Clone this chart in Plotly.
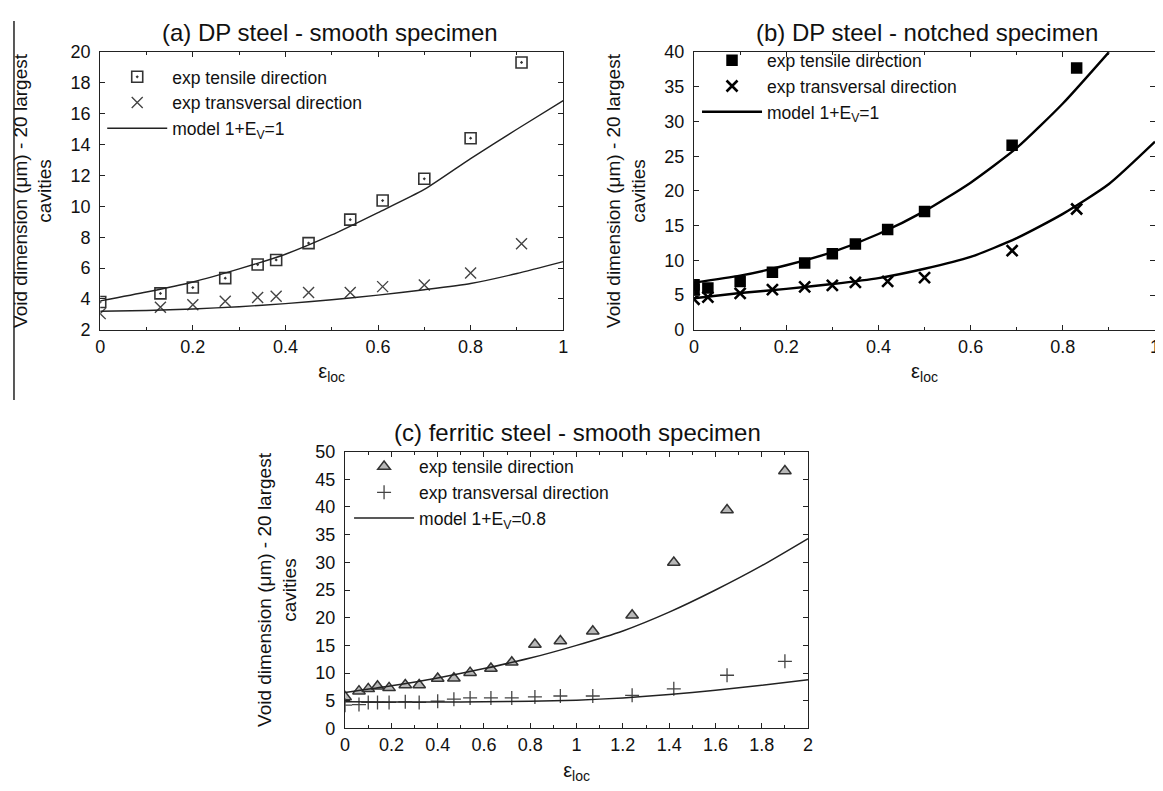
import plotly.graph_objects as go

# ---------------- data ----------------
# (a) DP steel - smooth specimen
a_eps = [0, 0.13, 0.20, 0.27, 0.34, 0.38, 0.45, 0.54, 0.61, 0.70, 0.80, 0.91]
a_tensile = [3.8, 4.36, 4.74, 5.35, 6.23, 6.53, 7.62, 9.14, 10.38, 11.79, 14.42, 19.33]
a_transv = [3.05, 3.47, 3.62, 3.85, 4.10, 4.17, 4.42, 4.42, 4.80, 4.90, 5.68, 7.58]
a_model_eps = [0, 0.1, 0.2, 0.3, 0.4, 0.5, 0.6, 0.7, 0.8, 0.9, 1.0]
a_model_tensile = [3.88, 4.45, 5.1, 5.95, 6.9, 8.15, 9.6, 11.1, 13.1, 15.0, 16.86]
a_model_transv = [3.2, 3.25, 3.35, 3.5, 3.7, 3.95, 4.25, 4.6, 5.0, 5.65, 6.42]

# (b) DP steel - notched specimen
b_eps_tensile = [0, 0, 0.03, 0.10, 0.17, 0.24, 0.30, 0.35, 0.42, 0.50, 0.69, 0.83]
b_tensile = [6.5, 5.8, 6.03, 6.97, 8.28, 9.64, 10.95, 12.35, 14.46, 17.03, 26.6, 37.7]
b_eps_transv = [0, 0.03, 0.10, 0.17, 0.24, 0.30, 0.35, 0.42, 0.50, 0.69, 0.83]
b_transv = [4.4, 4.72, 5.24, 5.8, 6.18, 6.41, 6.83, 6.97, 7.53, 11.4, 17.4]
b_model_eps_tensile = [0, 0.1, 0.2, 0.3, 0.4, 0.5, 0.6, 0.7, 0.8, 0.9]
b_model_tensile = [6.8, 7.8, 9.3, 11.2, 13.8, 17.1, 21.2, 26.2, 32.6, 40.0]
b_model_eps_transv = [0, 0.1, 0.2, 0.3, 0.4, 0.5, 0.6, 0.7, 0.8, 0.9, 1.0]
b_model_transv = [4.55, 5.3, 5.9, 6.6, 7.45, 8.8, 10.5, 13.2, 16.7, 21.0, 27.1]

# (c) ferritic steel - smooth specimen
c_eps = [0, 0.06, 0.10, 0.14, 0.19, 0.26, 0.32, 0.40, 0.47, 0.54, 0.63, 0.72,
         0.82, 0.93, 1.07, 1.24, 1.42, 1.65, 1.90]
c_tensile = [5.68, 6.73, 7.14, 7.61, 7.32, 7.85, 7.85, 9.0, 9.07, 10.07, 10.83, 11.94,
             15.16, 15.8, 17.56, 20.43, 29.98, 39.46, 46.49]
c_transv = [4.2, 4.3, 4.68, 4.68, 4.68, 4.8, 4.68, 4.92, 5.27, 5.5, 5.5, 5.5,
            5.68, 5.85, 5.85, 5.97, 7.14, 9.6, 12.12]
c_model_eps = [0, 0.2, 0.4, 0.6, 0.8, 1.0, 1.2, 1.4, 1.6, 1.8, 2.0]
c_model_tensile = [6.5, 7.7, 9.1, 10.8, 12.7, 15.0, 17.6, 21.0, 25.0, 29.4, 34.3]
c_model_transv = [4.8, 4.75, 4.75, 4.8, 4.9, 5.1, 5.5, 6.1, 6.9, 7.8, 8.8]

titles = ["(a) DP steel - smooth specimen",
          "(b) DP steel - notched specimen",
          "(c) ferritic steel - smooth specimen"]
ylabel = "Void dimension (μm) - 20 largest<br>cavities"
xlabel = "ε<sub>loc</sub>"
name_t = "exp tensile direction"
name_x = "exp transversal direction"

FONT = "Liberation Sans, Arial, Helvetica, sans-serif"
# the page body keeps its default 8px margin, so the figure is 8px smaller
OFF = 8
W, H = 1163 - OFF, 791 - OFF

fig = go.Figure()

# ---- panel (a)
fig.add_trace(go.Scatter(x=a_eps, y=a_tensile, mode="markers", name=name_t,
                         marker=dict(symbol="square-open-dot", size=11, color="#333",
                                     line=dict(width=1.6, color="#333")),
                         xaxis="x", yaxis="y", legend="legend"))
fig.add_trace(go.Scatter(x=a_eps, y=a_transv, mode="markers", name=name_x,
                         marker=dict(symbol="x-thin-open", size=11, color="#444",
                                     line=dict(width=1.4, color="#444")),
                         xaxis="x", yaxis="y", legend="legend"))
fig.add_trace(go.Scatter(x=a_model_eps, y=a_model_tensile, mode="lines",
                         name="model 1+E<sub>V</sub>=1",
                         line=dict(color="#222", width=1.4, shape="spline", smoothing=0.6),
                         xaxis="x", yaxis="y", legend="legend"))
fig.add_trace(go.Scatter(x=a_model_eps, y=a_model_transv, mode="lines",
                         name="model 1+E<sub>V</sub>=1", showlegend=False,
                         line=dict(color="#222", width=1.4, shape="spline", smoothing=0.6),
                         xaxis="x", yaxis="y"))

# ---- panel (b)
fig.add_trace(go.Scatter(x=b_eps_tensile, y=b_tensile, mode="markers", name=name_t,
                         marker=dict(symbol="square", size=11.5, color="#000"),
                         xaxis="x2", yaxis="y2", legend="legend2"))
fig.add_trace(go.Scatter(x=b_eps_transv, y=b_transv, mode="markers", name=name_x,
                         marker=dict(symbol="x-thin-open", size=11, color="#000",
                                     line=dict(width=2.6, color="#000")),
                         xaxis="x2", yaxis="y2", legend="legend2"))
fig.add_trace(go.Scatter(x=b_model_eps_tensile, y=b_model_tensile, mode="lines",
                         name="model 1+E<sub>V</sub>=1",
                         line=dict(color="#000", width=2.4, shape="spline", smoothing=0.6),
                         xaxis="x2", yaxis="y2", legend="legend2"))
fig.add_trace(go.Scatter(x=b_model_eps_transv, y=b_model_transv, mode="lines",
                         name="model 1+E<sub>V</sub>=1", showlegend=False,
                         line=dict(color="#000", width=2.4, shape="spline", smoothing=0.6),
                         xaxis="x2", yaxis="y2"))

# ---- panel (c)
fig.add_trace(go.Scatter(x=c_eps, y=c_tensile, mode="markers", name=name_t,
                         marker=dict(symbol="triangle-up", size=11, color="#b8b8b8",
                                     line=dict(width=1.5, color="#333")),
                         xaxis="x3", yaxis="y3", legend="legend3"))
fig.add_trace(go.Scatter(x=c_eps, y=c_transv, mode="markers", name=name_x,
                         marker=dict(symbol="cross-thin-open", size=10, color="#444",
                                     line=dict(width=1.3, color="#444")),
                         xaxis="x3", yaxis="y3", legend="legend3"))
fig.add_trace(go.Scatter(x=c_model_eps, y=c_model_tensile, mode="lines",
                         name="model 1+E<sub>V</sub>=0.8",
                         line=dict(color="#222", width=1.5, shape="spline", smoothing=0.6),
                         xaxis="x3", yaxis="y3", legend="legend3"))
fig.add_trace(go.Scatter(x=c_model_eps, y=c_model_transv, mode="lines",
                         name="model 1+E<sub>V</sub>=0.8", showlegend=False,
                         line=dict(color="#222", width=1.5, shape="spline", smoothing=0.6),
                         xaxis="x3", yaxis="y3"))


def px_x(p):
    return (p - OFF) / W


def px_y(p):
    return 1 - (p - OFF) / H


def xaxis(dom, rng, dtick, minor, anchor):
    return dict(domain=dom, range=rng, dtick=dtick, tick0=0, anchor=anchor,
                showline=True, linecolor="#222", linewidth=1.3, mirror="allticks",
                ticks="inside", ticklen=5, tickwidth=1, tickcolor="#222",
                showgrid=False, zeroline=False,
                tickfont=dict(size=18, color="#111", family=FONT),
                minor=dict(dtick=minor, ticks="inside", ticklen=3, tickcolor="#222",
                           showgrid=False),
                title=dict(text=xlabel, font=dict(size=20, color="#111", family=FONT),
                           standoff=8))


def yaxis(dom, rng, dtick, anchor):
    return dict(domain=dom, range=rng, dtick=dtick, tick0=0, anchor=anchor,
                showline=True, linecolor="#222", linewidth=1.3, mirror="allticks",
                ticks="inside", ticklen=5, tickwidth=1, tickcolor="#222",
                showgrid=False, zeroline=False, ticklabelstandoff=5,
                tickfont=dict(size=18, color="#111", family=FONT),
                title=dict(text=ylabel, font=dict(size=19, color="#111", family=FONT),
                           standoff=13))


legend_common = dict(xanchor="left", yanchor="top", bgcolor="rgba(0,0,0,0)",
                     font=dict(size=17.5, color="#111", family=FONT),
                     itemwidth=60, tracegroupgap=0)


def title_ann(text, x, y):
    return dict(text=text, x=px_x(x), y=px_y(y), xref="paper", yref="paper",
                showarrow=False, xanchor="center", yanchor="middle",
                font=dict(size=24, color="#111", family=FONT))


fig.update_layout(
    width=W, height=H, margin=dict(l=0, r=0, t=0, b=0),
    paper_bgcolor="white", plot_bgcolor="white",
    font=dict(family=FONT, color="#111"),
    xaxis=xaxis([px_x(96), px_x(563)], [0, 1], 0.2, 0.1, "y"),
    yaxis=yaxis([px_y(328), px_y(43)], [2, 20], 2, "x"),
    xaxis2=xaxis([px_x(695), px_x(1160)], [0, 1], 0.2, 0.1, "y2"),
    yaxis2=yaxis([px_y(328), px_y(43)], [0, 40], 5, "x2"),
    xaxis3=xaxis([px_x(343), px_x(810)], [0, 2], 0.2, 0.1, "y3"),
    yaxis3=yaxis([px_y(737), px_y(453)], [0, 50], 5, "x3"),
    legend=dict(legend_common, x=px_x(98), y=px_y(50)),
    legend2=dict(legend_common, x=px_x(698), y=px_y(33)),
    legend3=dict(legend_common, x=px_x(347), y=px_y(450)),
    annotations=[
        title_ann(titles[0], 328, 23),
        title_ann(titles[1], 930, 23),
        title_ann(titles[2], 577, 433),
    ],
    shapes=[dict(type="line", xref="paper", yref="paper",
                 x0=px_x(9), x1=px_x(9), y0=px_y(11), y1=px_y(400),
                 line=dict(color="#222", width=1.5))],
    showlegend=True,
)

fig.write_html("out.html")
